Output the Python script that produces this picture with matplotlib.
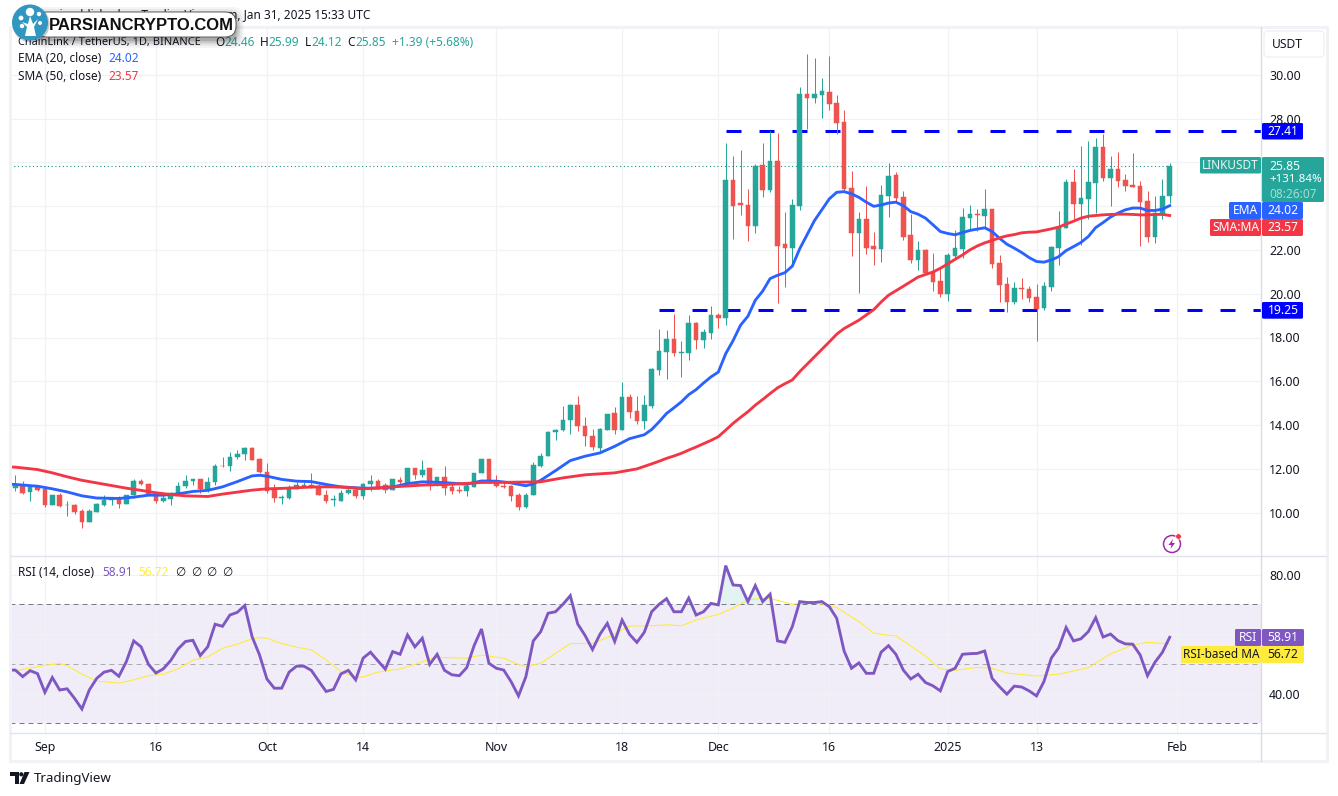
import matplotlib
matplotlib.use("Agg")
import matplotlib.pyplot as plt
from matplotlib.patches import FancyBboxPatch, Rectangle, Circle, Polygon
import numpy as np

# ---------- data; candle number 1 = 28 Aug 2024 ----------
opens = [11.15,11.21,10.94,11.18,11.06,10.33,10.79,10.33,10.33,10.06,
 9.58,10.03,10.33,10.58,10.61,10.39,10.79,11.47,11.33,10.83,
 10.52,10.64,10.88,11.21,11.44,11.52,11.09,11.39,12.15,12.12,
 12.53,12.67,12.97,12.47,11.88,11.09,10.67,10.67,11.09,11.24,
 11.27,11.23,10.82,10.58,10.52,10.89,11.03,10.76,11.29,11.47,
 11.27,11.03,11.50,11.36,12.02,11.70,12.02,11.29,11.65,11.17,
 11.02,10.97,11.17,11.79,12.44,11.42,11.23,11.20,10.79,10.26,
 10.83,12.15,12.58,13.67,13.76,14.24,14.92,13.97,13.52,12.95,
 13.79,14.55,13.76,15.27,14.64,14.21,14.88,16.51,17.33,17.92,
 17.29,17.29,18.65,17.88,18.20,19.02,18.88,25.21,24.12,24.07,
 23.11,25.89,24.75,26.07,22.25,22.07,24.02,29.12,28.94,29.08,
 29.21,28.71,27.85,24.84,22.75,23.39,22.16,22.02,24.48,25.44,
 24.43,22.66,21.52,21.98,20.97,20.58,19.98,21.73,22.05,23.47,
 23.65,23.56,23.88,21.40,20.44,19.62,20.26,20.21,19.85,19.34,
 20.31,22.09,23.01,25.11,24.11,24.34,25.07,26.72,25.30,25.71,
 25.21,24.98,24.93,24.24,22.60,23.65,24.46]
highs = [11.74,11.47,11.24,11.24,11.09,10.83,10.91,10.52,10.42,10.18,
 10.18,10.45,10.83,10.73,10.76,10.82,11.55,11.52,11.36,10.91,
 10.88,10.94,11.42,11.74,11.55,11.55,11.65,12.24,12.55,12.79,
 12.88,13.02,13.02,12.52,12.27,11.33,10.83,11.27,11.39,11.42,
 11.79,11.33,11.02,10.80,11.03,11.18,11.12,11.36,11.74,11.55,
 11.36,11.52,11.61,12.06,12.05,12.39,12.02,11.65,12.11,11.39,
 11.21,11.36,11.83,12.47,12.44,11.74,11.41,11.27,10.92,10.88,
 12.33,12.73,13.74,13.82,14.89,14.97,15.33,14.36,13.83,13.85,
 14.52,14.82,15.95,15.41,15.35,15.36,16.59,18.38,18.33,19.06,
 17.83,19.02,18.70,18.41,19.43,19.12,26.89,26.30,26.57,24.80,
 25.94,26.89,27.44,27.35,23.75,24.34,29.44,30.94,30.76,29.85,
 30.85,29.08,28.39,25.62,23.71,24.93,22.80,24.98,25.98,25.57,
 24.71,23.66,22.39,22.02,21.84,21.22,21.88,22.92,23.92,24.06,
 23.88,24.79,23.88,21.77,20.76,20.53,20.72,20.35,20.44,20.53,
 22.18,23.79,25.25,25.71,26.76,26.99,27.13,27.27,26.31,26.49,
 25.48,26.44,25.16,24.70,24.47,25.25,25.99]
lows = [10.98,10.85,10.53,10.98,10.26,10.33,10.26,9.83,9.94,9.30,
 9.58,10.03,10.29,10.33,10.21,10.39,10.67,11.26,10.80,10.44,
 10.48,10.35,10.88,11.15,11.26,10.89,10.94,11.26,12.08,11.89,
 12.47,12.39,12.42,11.82,10.91,10.48,10.39,10.61,11.06,11.18,
 11.14,10.80,10.45,10.30,10.52,10.86,10.65,10.62,11.00,11.09,
 10.89,11.03,11.33,11.33,11.56,11.61,11.03,11.24,10.83,10.85,
 10.89,10.76,11.17,11.79,11.36,11.17,11.11,10.53,10.12,10.21,
 10.83,12.09,12.58,13.30,13.73,13.61,13.71,13.06,12.85,12.76,
 13.76,13.58,13.76,14.32,14.06,13.83,14.76,16.29,16.10,17.15,
 16.19,16.97,17.47,17.51,17.92,18.42,18.56,22.52,23.61,22.39,
 22.75,24.43,24.66,19.56,20.29,21.25,23.84,27.53,28.71,28.03,
 28.39,27.30,24.75,21.70,20.02,21.79,21.29,21.47,23.52,24.21,
 22.43,21.38,21.07,20.88,20.11,19.86,19.66,21.63,21.63,22.87,
 22.87,23.05,21.18,19.62,19.16,19.53,19.77,19.62,17.85,19.25,
 20.12,21.31,23.01,23.42,22.23,23.42,23.69,25.16,24.02,24.89,
 24.70,24.89,22.18,22.37,22.32,23.42,24.12]
closes = [11.21,10.92,11.18,11.03,10.33,10.79,10.29,10.36,10.03,9.58,
 10.06,10.38,10.58,10.61,10.39,10.79,11.47,11.29,10.80,10.52,
 10.65,10.91,11.24,11.47,11.52,11.09,11.42,12.15,12.11,12.56,
 12.70,12.97,12.42,11.85,11.00,10.67,10.70,11.09,11.27,11.27,
 11.20,10.80,10.52,10.61,10.91,11.02,10.76,11.29,11.47,11.18,
 11.03,11.52,11.38,12.02,11.70,11.97,11.29,11.65,11.11,10.97,
 10.98,11.20,11.83,12.44,11.38,11.24,11.17,10.76,10.24,10.82,
 12.20,12.61,13.70,13.79,14.23,14.92,13.94,13.48,12.98,13.82,
 14.52,13.76,15.27,14.62,14.21,14.92,16.54,17.38,17.92,17.30,
 17.33,18.65,17.88,18.24,19.02,18.88,25.21,24.02,24.07,23.11,
 25.85,24.75,26.07,22.20,22.07,24.07,29.12,28.94,29.12,29.26,
 28.67,27.80,24.80,22.75,23.39,22.07,22.02,24.52,25.39,24.39,
 22.61,21.52,21.98,20.93,20.52,19.98,21.77,22.09,23.51,23.65,
 23.60,23.88,21.36,20.40,19.62,20.26,20.21,19.80,19.30,20.35,
 22.14,23.05,25.11,24.11,24.38,25.11,26.72,25.30,25.71,25.16,
 24.93,24.89,24.20,22.60,23.69,24.47,25.85]

ema_days = [0,1,4,6,8,10,12,15,17,19,21,23,25,27,29,31,33,34,35,37,39,41,43,45,47,
 48,50,52,54,56,58,60,62,64,66,68,70,71,72,74,76,78,80,82,84,86,87,88,89,90,91,92,93,94,95,96,97,98,
 99,100,101,102,103,104,105,106,107,109,111,112,113,114,115,116,117,118,119,120,121,122,
 123,124,125,126,127,128,129,130,131,132,133,134,135,136,137,138,139,140,141,142,143,144,
 145,146,147,148,149,150,151,152,153,154,155,156,157]
ema_values = [11.30,11.29,11.21,11.09,10.95,10.77,10.67,10.65,10.71,10.80,10.80,10.86,10.97,11.02,11.18,11.42,11.68,11.71,11.67,11.52,11.44,11.42,11.29,11.18,11.14,
 11.12,11.12,11.17,11.33,11.41,11.39,11.35,11.30,11.45,11.44,11.36,11.23,11.32,11.48,11.92,12.38,12.58,12.73,13.03,13.38,13.56,13.80,14.15,14.53,14.79,15.06,15.39,15.62,15.92,16.20,16.42,17.26,17.86,
 18.56,18.97,19.70,20.12,20.69,20.84,20.96,21.26,22.05,23.34,24.33,24.63,24.66,24.56,24.40,24.18,23.99,24.05,24.14,24.18,24.02,23.75,
 23.63,23.45,23.15,22.84,22.75,22.69,22.79,22.89,22.95,23.01,22.84,22.53,22.26,22.08,21.88,21.65,21.47,21.44,21.54,21.69,21.97,22.15,
 22.34,22.61,23.02,23.25,23.50,23.68,23.83,23.91,23.91,23.80,23.80,23.86,24.02]

sma_days = [0,1,4,6,8,10,12,14,16,18,20,22,24,27,29,31,33,35,37,39,41,43,45,47,
 48,52,56,60,64,68,72,75,78,82,85,87,88,89,90,91,92,93,94,95,96,97,98,99,100,101,102,103,104,105,106,107,109,111,112,113,115,117,118,119,121,123,125,
 126,127,128,129,130,131,132,133,134,135,136,137,138,139,140,141,142,143,144,145,146,147,148,149,150,151,152,153,154,155,156,157]
sma_values = [12.09,12.08,11.97,11.82,11.64,11.48,11.36,11.24,11.12,11.02,10.91,10.83,10.77,10.74,10.85,10.94,11.03,11.09,11.11,11.14,11.17,11.18,11.17,11.12,
 11.09,11.18,11.26,11.30,11.38,11.39,11.41,11.59,11.73,11.82,12.00,12.23,12.35,12.48,12.59,12.71,12.86,13.00,13.15,13.30,13.47,13.77,14.08,14.35,14.61,14.91,15.17,15.44,15.70,15.89,16.06,16.44,17.12,17.80,18.15,18.41,18.79,19.27,19.62,19.93,20.34,20.76,20.99,
 21.16,21.36,21.57,21.77,22.00,22.18,22.32,22.43,22.55,22.64,22.70,22.78,22.81,22.82,22.89,22.96,23.04,23.18,23.31,23.45,23.54,23.57,23.60,23.62,23.63,23.63,23.62,23.60,23.60,23.62,23.62,23.57]

rsi_values = [47.9,47.9,45.7,47.7,46.7,40.4,45.4,41.2,41.6,38.4,34.8,
 41.2,45.1,47.2,47.8,45.8,50.7,57.7,55.7,49.8,46.9,
 48.3,51.1,55.0,57.5,57.9,52.8,55.7,63.3,62.6,66.4,
 67.3,69.6,59.1,53.0,44.9,41.8,41.8,47.2,49.2,49.2,
 47.8,44.2,40.7,41.4,46.6,47.8,44.6,51.9,53.9,51.0,
 48.2,54.1,53.2,59.7,55.7,58.6,49.8,53.2,47.8,46.3,
 46.0,48.7,56.1,61.7,50.2,48.5,47.9,44.0,39.2,45.7,
 57.7,60.8,67.0,67.5,70.0,72.9,63.4,59.5,54.8,59.9,
 63.6,57.5,64.7,59.9,57.2,60.6,67.5,70.0,71.9,67.5,
 67.5,72.1,66.4,67.5,70.3,69.8,83.0,76.5,76.3,70.9,
 76.3,70.9,73.4,57.7,57.2,62.5,70.9,70.6,70.6,70.9,
 69.2,65.3,54.3,48.5,50.3,46.8,46.8,53.9,56.1,53.2,
 47.9,44.9,46.5,43.7,42.6,40.9,47.4,48.5,53.2,53.4,
 53.5,54.3,45.1,42.3,39.8,42.5,42.2,40.9,39.2,44.0,
 51.9,55.4,62.2,57.7,58.4,60.8,65.5,59.0,60.0,57.8,
 56.7,56.6,53.0,46.0,50.5,53.8,58.91]

rsi_ma_days = [0,5,7,8,10,12,15,17,19,21,23,25,27,29,31,33,34,35,37,39,41,43,45,47,48,50,53,55,57,58,60,
 62,64,67,69,70,72,74,76,79,81,84,87,89,91,93,96,98,100,102,103,106,109,112,115,117,119,
 120,124,126,128,131,133,135,139,142,146,149,152,154,157]
rsi_ma_values = [47.2,49.5,50.1,49.4,46.5,44.2,43.5,44.6,46.0,46.5,48.3,51.2,52.3,55.2,56.6,58.4,58.8,58.6,56.8,55.6,54.7,51.3,47.4,45.5,45.6,47.2,48.3,49.8,51.6,52.2,52.0,
 51.9,52.9,51.9,49.7,49.1,50.2,53.5,56.8,56.9,58.8,62.7,62.8,63.1,62.8,64.7,66.6,68.7,71.5,72.0,72.0,70.0,70.7,68.9,64.2,60.3,59.6,
 59.4,52.6,48.3,47.8,48.8,48.5,46.9,45.9,46.5,48.7,53.3,56.3,57.2,56.72]

support_level = 19.25
resistance_level = 27.41
support_start_day = 88
resistance_start_day = 97

price_ticks = [10,12,14,16,18,20,22,24,26,28,30]
price_labels = ["10.00","12.00","14.00","16.00","18.00","20.00","22.00","","","28.00","30.00"]
rsi_ticks = [40,60,80]
rsi_labels = ["40.00","","80.00"]
time_days = [5,20,35,48,66,83,96,111,127,139,158]
time_labels = ["Sep","16","Oct","14","Nov","18","Dec","16","2025","13","Feb"]

# ---------- style ----------
GREEN="#26a69a"; RED="#ef5350"; EMA_C="#2962ff"; SMA_C="#f23645"; RSI_C="#7e57c2"; YEL="#ffeb3b"
BLUE="#0000ff"; GRID="#f1f2f5"; TXT="#131722"; FRAME="#e0e3eb"
FONT="Noto Sans"
W,H=1338,796
plt.rcParams['font.family']=[FONT,'DejaVu Sans']
px=72/100  # points per pixel
fig=plt.figure(figsize=(W/100,H/100),dpi=100,facecolor="white")
L,R=10,1261
def mkax(top,bot):
    return fig.add_axes([L/W,1-bot/H,(R-L)/W,(bot-top)/H])
ax=mkax(27,556); ar=mkax(556,733)
def xpx(p): return (p-15.3)/7.4+1
for a in (ax,ar):
    a.set_xlim(xpx(L),xpx(R))
    a.set_axisbelow(True)
    for s in a.spines.values(): s.set_visible(False)
    a.yaxis.tick_right()
    a.tick_params(length=0,labelsize=8.9,labelcolor=TXT,pad=5.8)
    a.set_xticks(time_days)
    a.grid(True,color=GRID,lw=1*px*1.2)
ax.tick_params(axis='x',labelbottom=False)
ax.set_ylim(10+(512.7-556)/21.9,10+(512.7-27)/21.9)
ax.set_yticks(price_ticks,price_labels)
ar.set_ylim(70-(733-604.3)/2.975,70+(604.3-556)/2.975)
ar.set_yticks(rsi_ticks,rsi_labels)
ar.set_xticks(time_days,time_labels)
ar.tick_params(axis='x',pad=6)
for t in ar.get_xticklabels():
    if t.get_text()=="2025": t.set_fontweight("bold")

# candles
days=np.arange(1,len(closes)+1)
o,h,l,c=map(np.array,(opens,highs,lows,closes))
col=[GREEN if cc>=oo else RED for oo,cc in zip(o,c)]
ax.vlines(days,l,h,colors=col,lw=1*px,zorder=4)
ax.bar(days,np.abs(c-o),bottom=np.minimum(o,c),width=0.62,color=col,edgecolor=col,lw=0.35,zorder=4)
# moving averages
ax.plot(ema_days,ema_values,color=EMA_C,lw=3*px*0.95,zorder=5,solid_joinstyle="round")
ax.plot(sma_days,sma_values,color=SMA_C,lw=3*px*0.95,zorder=5,solid_joinstyle="round")
# drawn levels
for lev,st in ((resistance_level,resistance_start_day),(support_level,support_start_day)):
    ax.plot([st,xpx(R)],[lev,lev],color=BLUE,lw=3*px,ls=(0,(5,6)),dash_capstyle="butt",zorder=3)
ax.plot([xpx(L),days[-1]],[closes[-1],closes[-1]],color="#1f8f85",lw=1.1*px,ls=(0,(1,2.4)),dash_capstyle="butt",zorder=2)

# RSI pane
rsi_days=np.arange(0,len(rsi_values))
rv=np.array(rsi_values)
ar.axhspan(30,70,color=RSI_C,alpha=0.1,lw=0,zorder=0.5)
for lev,cc in ((70,"#787b86"),(30,"#787b86"),(50,"#a8abb5")):
    ar.axhline(lev,color=cc,lw=1*px,ls=(0,(5,4)),zorder=1)
ar.fill_between(rsi_days,70,rv,where=rv>70,interpolate=True,color=GREEN,alpha=0.13,lw=0,zorder=1.5)
ar.plot(rsi_ma_days,rsi_ma_values,color=YEL,lw=1*px*1.1,zorder=2)
ar.plot(rsi_days,rsi_values,color=RSI_C,lw=3*px*0.95,zorder=3,solid_joinstyle="miter")

# ---------- chrome overlay in pixel coordinates ----------
ov=fig.add_axes([0,0,1,1],facecolor="none",zorder=10)
ov.set_xlim(0,W); ov.set_ylim(H,0); ov.axis("off")
ov.add_patch(Rectangle((10,27),1317,734,fc="none",ec=GRID,lw=3*px))
ov.plot([10,1326],[556,556],color=FRAME,lw=1.4*px)
ov.plot([10,1326],[733,733],color=FRAME,lw=1.4*px)
ov.plot([1261,1261],[27,761],color="#d9dce3",lw=1.4*px)

def T(x,y,s,color=TXT,size=8.7,ha="left",**kw):
    return ov.text(x,y,s,color=color,fontsize=size,ha=ha,va="center",**kw)
def box(x0,y0,x1,y1,fc,ec="none",r=1.5,z=3,lw=0):
    p=FancyBboxPatch((x0+r,y0+r),x1-x0-2*r,y1-y0-2*r,boxstyle=f"round,pad={r},rounding_size={r}",fc=fc,ec=ec,lw=lw,zorder=z)
    ov.add_patch(p); return p

# header text
T(370,15,"rsi published on TradingView.com, Jan 31, 2025 15:33 UTC",ha="right",size=8.5)
T(18,42,"ChainLink / TetherUS, 1D, BINANCE",size=7.95)
for x,s,cc in ((215,"O",TXT),(224,"24.46",GREEN),(260,"H",TXT),(268,"25.99",GREEN),(305,"L",TXT),(311,"24.12",GREEN),
               (347,"C",TXT),(355,"25.85",GREEN),(392,"+1.39 (+5.68%)",GREEN)):
    T(x,42,s,cc,size=8.5)
T(18,59,"EMA (20, close)",size=8.5); T(108,59,"24.02",EMA_C,size=8.5)
T(18,76,"SMA (50, close)",size=8.5); T(108,76,"23.57",SMA_C,size=8.5)
T(18,572,"RSI (14, close)",size=8.5); T(102,572,"58.91",RSI_C,size=8.5); T(138,572,"56.72",YEL,size=8.5)
for x in (175,191,206,222): T(x,572,"\u2205",size=8.5)

# right scale labels
box(1264,31,1324,57,"white",ec=GRID,r=4,lw=1.5*px)
T(1287,44,"USDT",ha="center")
W_B=dict(fontweight="medium")
box(1262,123,1303,139.5,BLUE); T(1283,131.5,"27.41","white",ha="center",**W_B)
box(1262,302,1303,318.7,BLUE); T(1283,310.5,"19.25","white",ha="center",**W_B)
box(1200,157,1261,173.5,GREEN); T(1230.5,165.5,"LINKUSDT","#e6f4f2",ha="center",size=8.5)
box(1262,157,1324,202,GREEN)
T(1269,166,"25.85","white",**W_B); T(1269,180,"+131.84%","white",size=8.3,**W_B); T(1269,194,"08:26:07","#a8dbd6",size=8.5)
box(1229,202,1261,219,EMA_C); T(1245,210.5,"EMA","white",ha="center")
box(1262,202,1303,219,EMA_C); T(1283,210.5,"24.02","white",ha="center",**W_B)
box(1210,219,1261,236,SMA_C); T(1235.5,227.5,"SMA:MA","white",ha="center")
box(1262,219,1303,236,SMA_C); T(1283,227.5,"23.57","white",ha="center",**W_B)
box(1235,629,1261,646,RSI_C); T(1248,637.5,"RSI","white",ha="center")
box(1262,629,1304,646,RSI_C); T(1283,637.5,"58.91","white",ha="center",**W_B)
box(1181,646,1261,663,YEL); T(1221,654.5,"RSI-based MA",TXT,ha="center",size=8.5)
box(1262,646,1304,663,YEL); T(1283,654.5,"56.72",TXT,ha="center")

# corner logo
for d,a_ in ((8,0.04),(6,0.05),(4,0.07),(2.5,0.09),(1,0.12)):
    box(38-d,12-d+3,236+d,37+d+3,"black",r=11,z=5).set_alpha(a_)
box(36,12,236,37,"white",ec="#555555",r=11,z=6,lw=0.9*px)
ov.add_patch(Circle((31,24),18.5,fc="black",alpha=0.22,ec="none",zorder=6))
ov.add_patch(Circle((30,22.5),18,fc="#2f97c1",ec="none",zorder=7))
ov.add_patch(Polygon([(25,36),(27,27),(22,22),(28,24),(30,16),(33,24),(38,19),(34,27),(36,36)],fc="white",ec="none",zorder=8))
for cx,cy,r_ in ((30,12,4.2),(21,18,2.4),(22,26,2.2),(39,14,2.2),(40,23,2.0)):
    ov.add_patch(Circle((cx,cy),r_,fc="white",ec="none",zorder=8))
T(49,25.5,"PARSIANCRYPTO.COM","#111111",size=12.0,fontweight="bold",zorder=9,family="Liberation Sans")

# bottom TradingView mark
ov.add_patch(Polygon([(10,772),(19,772),(19,784),(15,784),(15,776),(10,776)],fc=TXT,ec="none"))
ov.add_patch(Circle((21.3,774.3),2.1,fc=TXT,ec="none"))
ov.add_patch(Polygon([(24.5,772),(29.5,772),(24,784),(19.5,784)],fc=TXT,ec="none"))
T(34,778.5,"TradingView",size=9.6)

# bolt icon
ov.add_patch(Circle((1172,544),8.5,fc="white",ec="#9c27b0",lw=1.5*px))
ov.add_patch(Polygon([(1173,539),(1168.5,545),(1171.5,545),(1170.5,549),(1175,543),(1172,543)],fc="#9c27b0",ec="none"))
ov.add_patch(Circle((1178.5,536.5),2.8,fc="#f23645",ec="white",lw=0.5))

fig.savefig("out.png",dpi=100)
